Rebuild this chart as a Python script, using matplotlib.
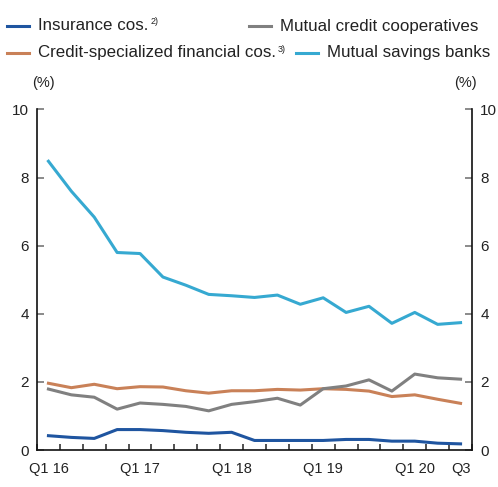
import matplotlib
matplotlib.use("Agg")
import matplotlib.pyplot as plt
from matplotlib.lines import Line2D
from matplotlib import font_manager

quarters = ["Q1 16", "Q2 16", "Q3 16", "Q4 16",
            "Q1 17", "Q2 17", "Q3 17", "Q4 17",
            "Q1 18", "Q2 18", "Q3 18", "Q4 18",
            "Q1 19", "Q2 19", "Q3 19", "Q4 19",
            "Q1 20", "Q2 20", "Q3 20"]
tick_labels = {0: "Q1 16", 4: "Q1 17", 8: "Q1 18", 12: "Q1 19", 16: "Q1 20", 18: "Q3"}

insurance = [0.42, 0.37, 0.34, 0.60, 0.60, 0.57, 0.52, 0.49, 0.52, 0.28,
             0.28, 0.28, 0.28, 0.31, 0.31, 0.26, 0.26, 0.20, 0.18]
credit_spec = [1.96, 1.83, 1.93, 1.80, 1.86, 1.85, 1.74, 1.67, 1.74, 1.74,
               1.78, 1.76, 1.80, 1.78, 1.73, 1.57, 1.62, 1.49, 1.37]
mutual_credit = [1.79, 1.62, 1.55, 1.20, 1.38, 1.34, 1.28, 1.15, 1.34, 1.42,
                 1.52, 1.32, 1.80, 1.88, 2.06, 1.73, 2.23, 2.12, 2.08]
savings_banks = [8.48, 7.60, 6.84, 5.80, 5.77, 5.08, 4.84, 4.57, 4.53, 4.48,
                 4.55, 4.28, 4.47, 4.04, 4.22, 3.72, 4.04, 3.69, 3.74]

c_ins = "#1f55a0"
c_cred = "#c98158"
c_mut = "#808080"
c_sav = "#36a9d1"

avail = {f.name for f in font_manager.fontManager.ttflist}
narrow = "Liberation Sans Narrow" if "Liberation Sans Narrow" in avail else "Liberation Sans"
plt.rcParams["font.family"] = ["Liberation Sans", "DejaVu Sans"]

W, H = 498, 487
fig = plt.figure(figsize=(W / 100, H / 100), dpi=100)
ax = fig.add_axes([37 / W, 1 - 450 / H, (472 - 37) / W, (450 - 109.5) / H])

x = list(range(len(quarters)))
lw = 2.2
ax.plot(x, savings_banks, color=c_sav, lw=lw)
ax.plot(x, credit_spec, color=c_cred, lw=lw)
ax.plot(x, mutual_credit, color=c_mut, lw=lw)
ax.plot(x, insurance, color=c_ins, lw=lw)

ax.set_xlim(-0.5, len(quarters) - 0.5)
ax.set_ylim(0, 10)
ax.spines["top"].set_visible(False)
for s in ["left", "right", "bottom"]:
    ax.spines[s].set_linewidth(1.2)
    ax.spines[s].set_color("#111111")

ax.set_yticks([0, 2, 4, 6, 8, 10])
ax.tick_params(axis="y", which="both", direction="in", length=5, width=1.2,
               color="#777777", labelsize=11, left=True, right=True,
               labelleft=True, labelright=True, pad=6, labelcolor="#222222")
for lab in ax.get_yticklabels():
    lab.set_fontfamily(narrow)

ax.set_xticks([i + 0.5 for i in range(-1, len(quarters))], minor=True)
ax.set_xticks(list(tick_labels.keys()))
ax.set_xticklabels(list(tick_labels.values()), fontfamily=narrow, fontsize=10.5, color="#222222")
ax.tick_params(axis="x", which="major", length=0, pad=9)
ax.tick_params(axis="x", which="minor", direction="in", length=4, width=1.2, color="#333333")

# legend
fs = 12.2
renderer = fig.canvas.get_renderer()
def leg(xl, y, color, text, sup=None):
    fig.add_artist(Line2D([xl / W, (xl + 22) / W], [1 - y / H, 1 - y / H], color=color, lw=2.2))
    t = fig.text((xl + 31) / W, 1 - y / H, text, fontsize=fs, va="center", ha="left", color="#222222")
    if sup:
        bb = t.get_window_extent(renderer=renderer)
        fig.text((bb.x1 + 2) / W, 1 - (y - 4) / H, sup, fontsize=6.5, va="center", ha="left", color="#222222")

leg(7, 26, c_ins, "Insurance cos.", "2)")
leg(249, 26, c_mut, "Mutual credit cooperatives")
leg(7, 53, c_cred, "Credit-specialized financial cos.", "3)")
leg(296, 53, c_sav, "Mutual savings banks")

fig.text(43 / W, 1 - 83 / H, "(%)", fontsize=10.5, ha="center", va="center", fontfamily=narrow, color="#222222")
fig.text(465 / W, 1 - 83 / H, "(%)", fontsize=10.5, ha="center", va="center", fontfamily=narrow, color="#222222")

fig.savefig("out.png", dpi=100)
